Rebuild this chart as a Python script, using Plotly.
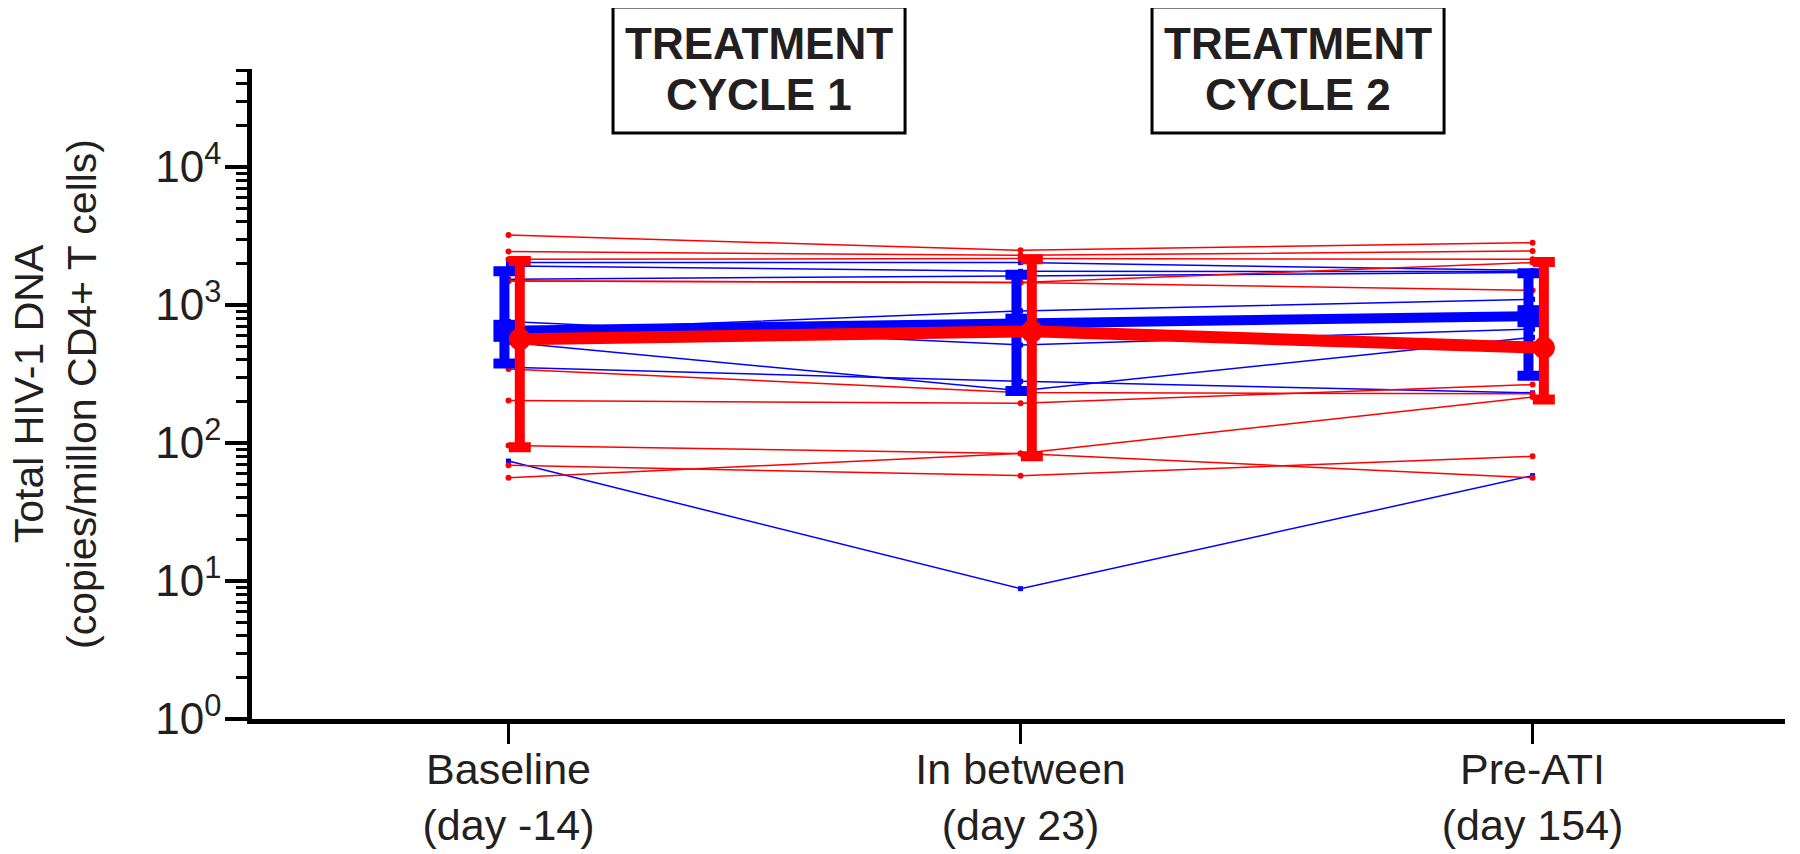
import plotly.graph_objects as go

categories = ["Baseline<br>(day -14)", "In between<br>(day 23)", "Pre-ATI<br>(day 154)"]
x_pos = [0, 1, 2]

# individual participants, group shown in blue
blue_subjects = [
    [2028, 2028, 1780],
    [1918, 1754, 1750],
    [1536, 1622, 1720],
    [760, 513, 669],
    [536, 239, 582],
    [354, 280, 231],
    [74, 8.8, 58],
    [650, 906, 1100],
]
# individual participants, group shown in red
red_subjects = [
    [3213, 2489, 2830],
    [2436, 2290, 2460],
    [2143, 2170, 2143],
    [1493, 1454, 1279],
    [1493, 1454, 2028],
    [344, 232, 227],
    [203, 194, 265],
    [96, 84, 56],
    [69, 58, 80],
    [56, 84, 215],
]

# summary values (centre and bar limits)
blue_mean = [650, 720, 830]
blue_upper = [1754, 1654, 1700]
blue_lower = [377, 238, 307]
red_mean = [565, 644, 490]
red_upper = [2080, 2143, 2050]
red_lower = [93, 80, 207]

y_tickvals = [1, 10, 100, 1000, 10000]
y_ticktext = ["10<sup>0</sup>", "10<sup>1</sup>", "10<sup>2</sup>", "10<sup>3</sup>", "10<sup>4</sup>"]

BLUE = "#0000FF"
RED = "#FF0000"
FONT = "Arial, Liberation Sans, sans-serif"
TXT = "#231F20"

fig = go.Figure()

for s in blue_subjects:
    fig.add_trace(go.Scatter(x=x_pos, y=s, mode="lines+markers",
                             line=dict(color=BLUE, width=1.5),
                             marker=dict(symbol="square", size=5, color=BLUE),
                             showlegend=False, hoverinfo="skip"))
for s in red_subjects:
    fig.add_trace(go.Scatter(x=x_pos, y=s, mode="lines+markers",
                             line=dict(color=RED, width=1.5),
                             marker=dict(symbol="circle", size=6, color=RED),
                             showlegend=False, hoverinfo="skip"))

bx = [x - 0.008 for x in x_pos]
rx = [x + 0.022 for x in x_pos]

fig.add_trace(go.Scatter(
    x=bx, y=blue_mean, mode="lines+markers",
    line=dict(color=BLUE, width=10),
    marker=dict(symbol="square", size=22, color=BLUE),
    error_y=dict(type="data", symmetric=False,
                 array=[u - m for u, m in zip(blue_upper, blue_mean)],
                 arrayminus=[m - l for m, l in zip(blue_mean, blue_lower)],
                 color=BLUE, thickness=10, width=11),
    showlegend=False))

fig.add_trace(go.Scatter(
    x=rx, y=red_mean, mode="lines+markers",
    line=dict(color=RED, width=12),
    marker=dict(symbol="circle", size=22, color=RED),
    error_y=dict(type="data", symmetric=False,
                 array=[u - m for u, m in zip(red_upper, red_mean)],
                 arrayminus=[m - l for m, l in zip(red_mean, red_lower)],
                 color=RED, thickness=10, width=11),
    showlegend=False))

fig.update_xaxes(
    range=[-0.501, 2.493], tickmode="array", tickvals=x_pos, ticktext=categories,
    showline=True, linecolor="black", linewidth=4.5,
    ticks="outside", ticklen=20, tickwidth=3, tickcolor="black",
    showgrid=False, zeroline=False, automargin=False,
    ticklabelstandoff=-11,
    tickfont=dict(family=FONT, size=43, color=TXT))

fig.update_yaxes(
    type="log", range=[0, 4.71], tickmode="array",
    tickvals=y_tickvals, ticktext=y_ticktext,
    showline=True, linecolor="black", linewidth=4.5,
    ticks="outside", ticklen=22, tickwidth=4, tickcolor="black",
    minor=dict(ticks="outside", ticklen=11, tickwidth=3, tickcolor="black",
               dtick="D1", showgrid=False),
    showgrid=False, zeroline=False, automargin=False,
    ticklabelstandoff=-5,
    tickfont=dict(family=FONT, size=44, color=TXT))

# y-axis title
fig.add_annotation(text="Total HIV-1 DNA<br>(copies/millon CD4+ T cells)",
                   xref="paper", yref="paper", x=-0.1285, y=0.5,
                   xanchor="center", yanchor="middle", textangle=-90,
                   showarrow=False, font=dict(family=FONT, size=41, color=TXT))

# treatment boxes
boxes = [
    dict(x0=0.2355, x1=0.4260, xc=0.3307, label="CYCLE 1"),
    dict(x0=0.5871, x1=0.7776, xc=0.6823, label="CYCLE 2"),
]
for b in boxes:
    fig.add_shape(type="rect", xref="paper", yref="paper",
                  x0=b["x0"], x1=b["x1"], y0=0.9015, y1=1.0954,
                  line=dict(color="black", width=3), fillcolor="white", layer="above")
    fig.add_annotation(text="<b>TREATMENT</b>", xref="paper", yref="paper",
                       x=b["xc"], y=1.0385, xanchor="center", yanchor="middle",
                       showarrow=False, font=dict(family=FONT, size=44, color=TXT))
    fig.add_annotation(text="<b>" + b["label"] + "</b>", xref="paper", yref="paper",
                       x=b["xc"], y=0.9615, xanchor="center", yanchor="middle",
                       showarrow=False, font=dict(family=FONT, size=44, color=TXT))

fig.update_layout(
    width=1800, height=854,
    margin=dict(l=244, r=23, t=61, b=143, autoexpand=False),
    plot_bgcolor="white", paper_bgcolor="white",
    showlegend=False)

fig.write_html("out.html")
